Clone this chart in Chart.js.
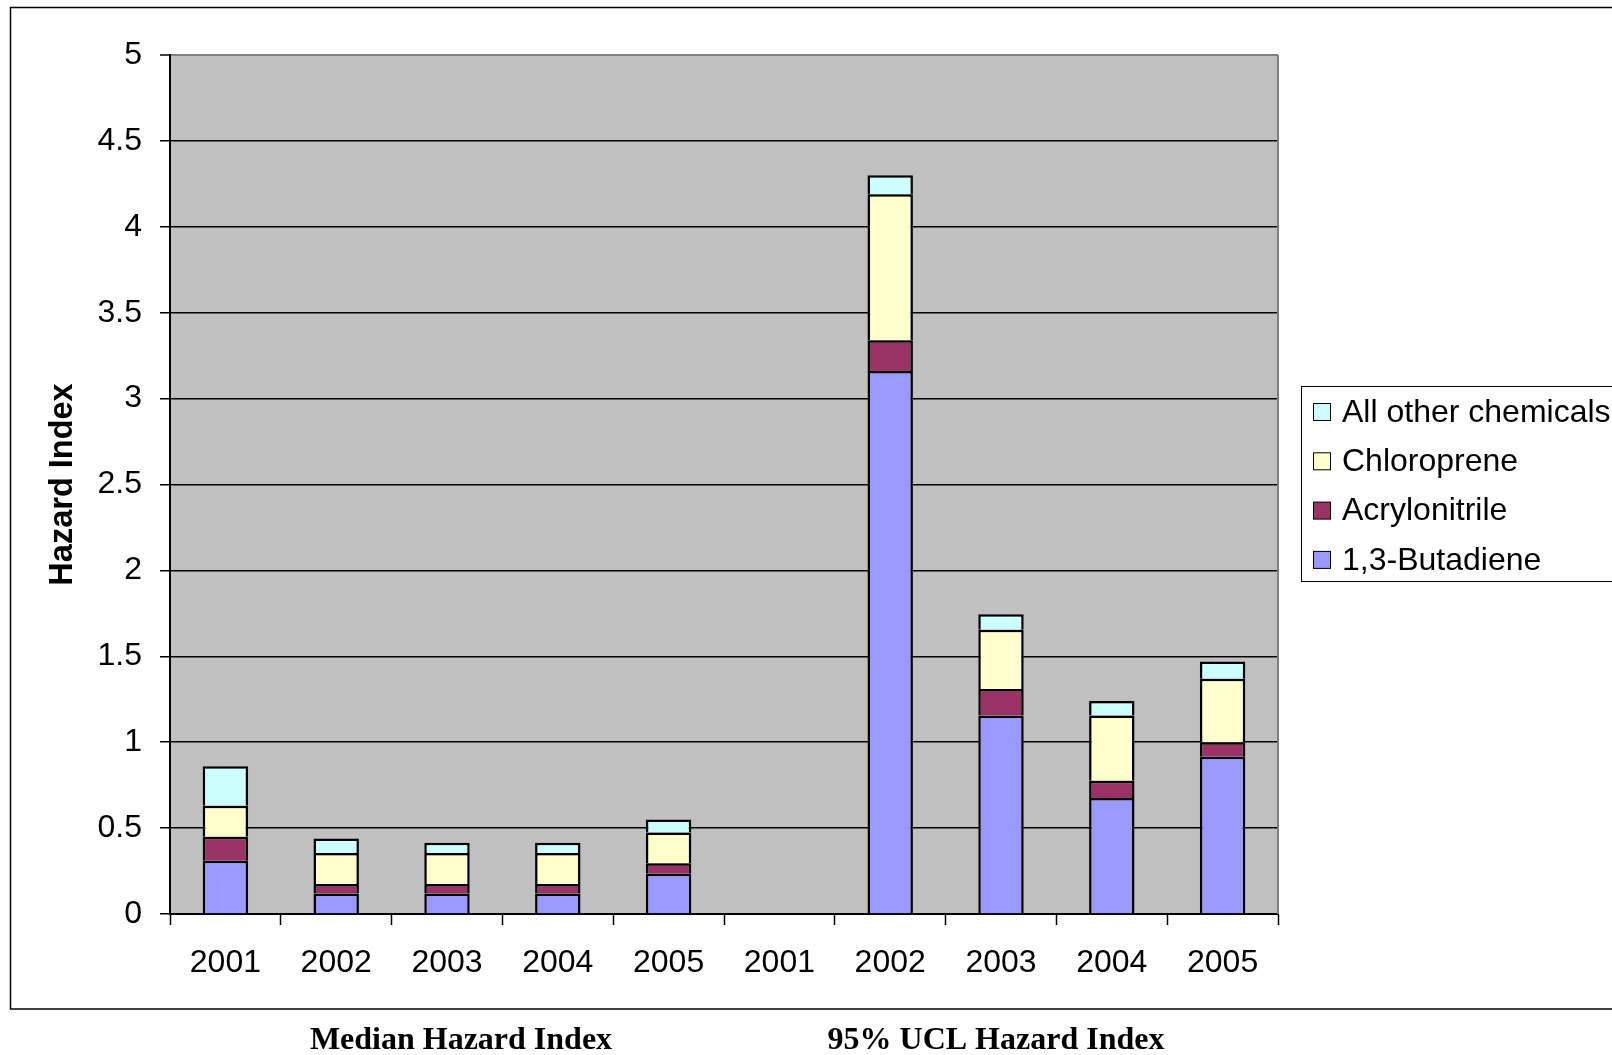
<!DOCTYPE html>
<html>
<head>
<meta charset="utf-8">
<title>Hazard Index</title>
<script src="https://cdn.jsdelivr.net/npm/chart.js@4/dist/chart.umd.min.js"></script>
<style>
  html, body { margin: 0; padding: 0; background: #ffffff; }
  #wrap { position: relative; width: 1612px; height: 1055px; }
  canvas { display: block; }
</style>
</head>
<body>
<div id="wrap"><canvas id="chart" width="1612" height="1055"></canvas></div>
<script>
// Years for the median group (first five) and the 95% UCL group (last five)
const categories = ['2001', '2002', '2003', '2004', '2005', '2001', '2002', '2003', '2004', '2005'];

// Hazard index contribution of each chemical, stacked bottom to top
const butadiene     = [0.31, 0.12, 0.12, 0.12, 0.235, null, 3.16, 1.155, 0.675, 0.915];
const acrylonitrile = [0.14, 0.055, 0.055, 0.055, 0.06, null, 0.18, 0.155, 0.10, 0.085];
const chloroprene   = [0.18, 0.18, 0.18, 0.18, 0.18, null, 0.85, 0.345, 0.38, 0.37];
const otherChems    = [0.23, 0.085, 0.06, 0.06, 0.075, null, 0.11, 0.09, 0.085, 0.10];

const seriesNames = ['1,3-Butadiene', 'Acrylonitrile', 'Chloroprene', 'All other chemicals'];
const yTickValues = [0, 0.5, 1, 1.5, 2, 2.5, 3, 3.5, 4, 4.5, 5];
const groupLabels = ['Median Hazard Index', '95% UCL Hazard Index'];

const colors = ['#9999FF', '#993366', '#FFFFCC', '#CCFFFF'];
const SANS = '"Liberation Sans", Arial, sans-serif';
const SERIF = '"Liberation Serif", "Times New Roman", serif';

const seriesData = [butadiene, acrylonitrile, chloroprene, otherChems];
const datasets = seriesData.map((d, i) => ({
  label: seriesNames[i],
  data: d,
  backgroundColor: colors[i],
  borderColor: '#000000',
  borderWidth: 2.5,
  borderSkipped: 'start',
  categoryPercentage: 1,
  barPercentage: 0.41
}));

// Gray plot background, right border, outer frame, group captions and legend box
const decorations = {
  id: 'decorations',
  beforeDraw(chart) {
    const { ctx, chartArea: a } = chart;
    ctx.save();
    ctx.fillStyle = '#ffffff';
    ctx.fillRect(0, 0, chart.width, chart.height);
    ctx.fillStyle = '#C0C0C0';
    ctx.fillRect(a.left, a.top, a.right - a.left, a.bottom - a.top);
    ctx.restore();
  },
  afterDraw(chart) {
    const { ctx, chartArea: a } = chart;
    ctx.save();
    // plot area right edge
    ctx.strokeStyle = '#808080';
    ctx.lineWidth = 2;
    ctx.beginPath();
    ctx.moveTo(a.right, a.top);
    ctx.lineTo(a.right, a.bottom);
    ctx.stroke();

    // outer chart frame
    ctx.strokeStyle = '#000000';
    ctx.lineWidth = 1.5;
    ctx.strokeRect(10.5, 7.5, 1700, 1001.5);

    // group captions under the year labels
    ctx.fillStyle = '#000000';
    ctx.font = 'bold 32px ' + SERIF;
    ctx.textAlign = 'center';
    ctx.textBaseline = 'middle';
    ctx.fillText(groupLabels[0], 461, 1041);
    ctx.fillText(groupLabels[1], 996, 1041);

    // legend, top entry is the top of the stack
    ctx.lineWidth = 1;
    ctx.strokeStyle = '#000000';
    ctx.strokeRect(1301.5, 386.5, 400, 195);
    ctx.font = '32px ' + SANS;
    ctx.textAlign = 'left';
    const ds = chart.data.datasets;
    for (let k = 0; k < ds.length; k++) {
      const d = ds[ds.length - 1 - k];
      const cy = 412 + k * 49.3;
      ctx.fillStyle = d.backgroundColor;
      ctx.fillRect(1313.5, cy - 8.5, 17, 17);
      ctx.strokeRect(1313.5, cy - 8.5, 17, 17);
      ctx.fillStyle = '#000000';
      ctx.fillText(d.label, 1342, cy + 1);
    }
    ctx.restore();
  }
};

new Chart(document.getElementById('chart'), {
  type: 'bar',
  data: { labels: categories, datasets },
  plugins: [decorations],
  options: {
    responsive: false,
    animation: false,
    events: [],
    layout: { padding: { left: 0, top: 55, right: 334, bottom: 0 } },
    plugins: { legend: { display: false }, tooltip: { enabled: false } },
    scales: {
      x: {
        stacked: true,
        afterFit(scale) { scale.height = 141; },
        grid: {
          offset: true,
          drawOnChartArea: false,
          drawTicks: true,
          tickLength: 11,
          tickColor: '#000000',
          tickWidth: 1.5,
          color: '#000000'
        },
        border: { display: true, color: '#000000', width: 2 },
        ticks: {
          color: '#000000',
          font: { family: SANS, size: 32 },
          padding: 19,
          maxRotation: 0,
          autoSkip: false
        }
      },
      y: {
        stacked: true,
        min: 0,
        max: 5,
        afterFit(scale) { scale.width = 170; },
        afterBuildTicks(scale) { scale.ticks = yTickValues.map(v => ({ value: v })); },
        grid: {
          color: (c) => (c.tick && c.tick.value === 5 ? '#808080' : '#000000'),
          lineWidth: (c) => (c.tick && c.tick.value === 5 ? 2 : 1.5),
          drawTicks: true,
          tickLength: 10,
          tickColor: '#000000',
          tickWidth: 1.5
        },
        border: { display: true, color: '#000000', width: 2 },
        ticks: {
          color: '#000000',
          font: { family: SANS, size: 32 },
          padding: 18,
          callback: (v) => String(v)
        },
        title: {
          display: true,
          text: 'Hazard Index',
          color: '#000000',
          font: { family: SANS, size: 32.5, weight: 'bold' },
          padding: { top: 44, bottom: 0 }
        }
      }
    }
  }
});
</script>
</body>
</html>
